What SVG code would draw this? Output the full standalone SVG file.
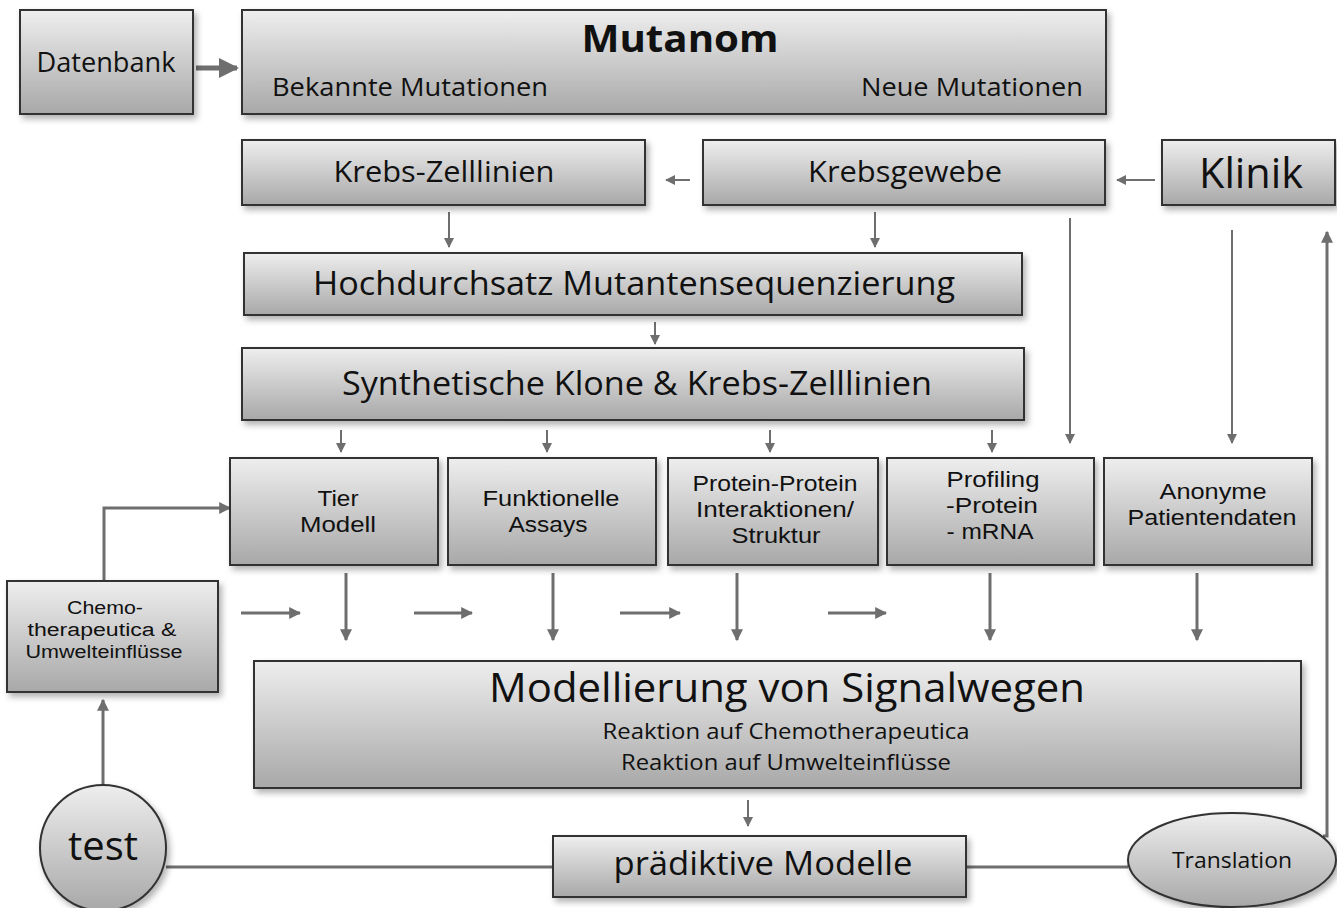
<svg xmlns="http://www.w3.org/2000/svg" width="1337" height="908" viewBox="0 0 1337 908">
<defs>
<linearGradient id="g" x1="0" y1="0" x2="0" y2="1">
<stop offset="0" stop-color="#eeeeee"/>
<stop offset="1" stop-color="#a8a8a8"/>
</linearGradient>
<filter id="sh" x="-10%" y="-10%" width="130%" height="140%">
<feDropShadow dx="3" dy="4" stdDeviation="3" flood-color="#000" flood-opacity="0.3"/>
</filter>
<marker id="ah" viewBox="0 0 10 10" refX="9" refY="5" markerWidth="4" markerHeight="4" orient="auto" markerUnits="strokeWidth">
<path d="M0,0 L10,5 L0,10 z" fill="#6e6e6e"/>
</marker>
<marker id="ahs" viewBox="0 0 10 10" refX="9" refY="5" markerWidth="5" markerHeight="5" orient="auto" markerUnits="strokeWidth">
<path d="M0,0 L10,5 L0,10 z" fill="#6e6e6e"/>
</marker>
</defs>
<style>
.b{fill:url(#g);stroke:#333;stroke-width:2;filter:url(#sh)}
text{font-family:"Open Sans","Liberation Sans",sans-serif;fill:#111;text-anchor:middle}
text.s{font-family:"Liberation Sans",Arial,sans-serif}
.c{stroke:#6e6e6e;stroke-width:3;fill:none}
.t{stroke:#6e6e6e;stroke-width:3;fill:none;marker-end:url(#ah)}
.ts{stroke:#6e6e6e;stroke-width:2;fill:none;marker-end:url(#ahs)}
</style>
<rect width="1337" height="908" fill="#fff"/>

<g id="connectors">
<line class="t" x1="196" y1="68" x2="237" y2="68" style="stroke-width:5"/>
<line class="ts" x1="690" y1="180" x2="666" y2="180"/>
<line class="ts" x1="1155" y1="180" x2="1117" y2="180"/>
<line class="ts" x1="449" y1="212" x2="449" y2="247"/>
<line class="ts" x1="875" y1="212" x2="875" y2="247"/>
<line class="ts" x1="655" y1="322" x2="655" y2="344"/>
<line class="ts" x1="341" y1="430" x2="341" y2="452"/>
<line class="ts" x1="547" y1="430" x2="547" y2="452"/>
<line class="ts" x1="770" y1="430" x2="770" y2="452"/>
<line class="ts" x1="992" y1="430" x2="992" y2="452"/>
<line class="ts" x1="1070" y1="218" x2="1070" y2="443"/>
<line class="ts" x1="1232" y1="230" x2="1232" y2="443"/>
<polyline class="t" points="104,581 104,508 230,508"/>
<line class="t" x1="241" y1="613" x2="300" y2="613"/>
<line class="t" x1="414" y1="613" x2="472" y2="613"/>
<line class="t" x1="620" y1="613" x2="680" y2="613"/>
<line class="t" x1="828" y1="613" x2="886" y2="613"/>
<line class="t" x1="346" y1="573" x2="346" y2="640"/>
<line class="t" x1="553" y1="573" x2="553" y2="640"/>
<line class="t" x1="737" y1="573" x2="737" y2="640"/>
<line class="t" x1="990" y1="573" x2="990" y2="640"/>
<line class="t" x1="1197" y1="573" x2="1197" y2="640"/>
<line class="ts" x1="748" y1="800" x2="748" y2="826"/>
<line class="t" x1="103" y1="785" x2="103" y2="700"/>
<line class="c" x1="166" y1="867" x2="553" y2="867"/>
<line class="c" x1="966" y1="867" x2="1128" y2="867"/>
<polyline class="t" points="1323,836 1327,836 1327,232"/>
</g>

<g id="datenbank"><rect class="b" x="20" y="10" width="173" height="104"/><text x="106" y="72" font-size="27" textLength="139" lengthAdjust="spacingAndGlyphs">Datenbank</text></g>
<g id="mutanom"><rect class="b" x="242" y="10" width="864" height="104"/>
<text x="680" y="52" font-size="38" font-weight="bold" textLength="197" lengthAdjust="spacingAndGlyphs">Mutanom</text>
<text x="272" y="96" font-size="26" style="text-anchor:start" textLength="276" lengthAdjust="spacingAndGlyphs">Bekannte Mutationen</text>
<text x="1083" y="96" font-size="26" style="text-anchor:end" textLength="222" lengthAdjust="spacingAndGlyphs">Neue Mutationen</text></g>
<g id="krebszelllinien"><rect class="b" x="242" y="140" width="403" height="65"/><text x="444" y="182" font-size="29" textLength="221" lengthAdjust="spacingAndGlyphs">Krebs-Zelllinien</text></g>
<g id="krebsgewebe"><rect class="b" x="703" y="140" width="402" height="65"/><text x="905" y="182" font-size="29" textLength="194" lengthAdjust="spacingAndGlyphs">Krebsgewebe</text></g>
<g id="klinik"><rect class="b" x="1162" y="140" width="173" height="65"/><text x="1251" y="188" font-size="42" textLength="104" lengthAdjust="spacingAndGlyphs">Klinik</text></g>
<g id="hochdurchsatz"><rect class="b" x="244" y="253" width="778" height="62"/><text x="634" y="295" font-size="32" textLength="642" lengthAdjust="spacingAndGlyphs">Hochdurchsatz Mutantensequenzierung</text></g>
<g id="synthetische"><rect class="b" x="242" y="348" width="782" height="72"/><text x="637" y="395" font-size="32" textLength="590" lengthAdjust="spacingAndGlyphs">Synthetische Klone &amp; Krebs-Zelllinien</text></g>
<g id="tier"><rect class="b" x="230" y="458" width="208" height="107"/><text class="s" x="338" y="506" font-size="22" textLength="41" lengthAdjust="spacingAndGlyphs">Tier</text><text class="s" x="338" y="532" font-size="22" textLength="76" lengthAdjust="spacingAndGlyphs">Modell</text></g>
<g id="funktionelle"><rect class="b" x="448" y="458" width="208" height="107"/><text class="s" x="551" y="506" font-size="22" textLength="137" lengthAdjust="spacingAndGlyphs">Funktionelle</text><text class="s" x="548" y="532" font-size="22" textLength="79" lengthAdjust="spacingAndGlyphs">Assays</text></g>
<g id="protein"><rect class="b" x="668" y="458" width="210" height="107"/><text class="s" x="775" y="491" font-size="22" textLength="165" lengthAdjust="spacingAndGlyphs">Protein-Protein</text><text class="s" x="775" y="517" font-size="22" textLength="158" lengthAdjust="spacingAndGlyphs">Interaktionen/</text><text class="s" x="776" y="543" font-size="22" textLength="89" lengthAdjust="spacingAndGlyphs">Struktur</text></g>
<g id="profiling"><rect class="b" x="887" y="458" width="207" height="107"/><text class="s" x="993" y="487" font-size="22" textLength="93" lengthAdjust="spacingAndGlyphs">Profiling</text><text class="s" x="992" y="513" font-size="22" textLength="92" lengthAdjust="spacingAndGlyphs">-Protein</text><text class="s" x="990" y="539" font-size="22" textLength="87" lengthAdjust="spacingAndGlyphs">- mRNA</text></g>
<g id="anonyme"><rect class="b" x="1104" y="458" width="208" height="107"/><text class="s" x="1213" y="499" font-size="22" textLength="107" lengthAdjust="spacingAndGlyphs">Anonyme</text><text class="s" x="1212" y="525" font-size="22" textLength="169" lengthAdjust="spacingAndGlyphs">Patientendaten</text></g>
<g id="chemo"><rect class="b" x="7" y="581" width="211" height="111"/><text class="s" x="105" y="614" font-size="18" textLength="76" lengthAdjust="spacingAndGlyphs">Chemo-</text><text class="s" x="102" y="636" font-size="18" textLength="149" lengthAdjust="spacingAndGlyphs">therapeutica &amp;</text><text class="s" x="104" y="658" font-size="18" textLength="157" lengthAdjust="spacingAndGlyphs">Umwelteinflüsse</text></g>
<g id="modellierung"><rect class="b" x="254" y="661" width="1047" height="127"/><text x="787" y="702" font-size="40" textLength="596" lengthAdjust="spacingAndGlyphs">Modellierung von Signalwegen</text><text x="786" y="739" font-size="22" textLength="367" lengthAdjust="spacingAndGlyphs">Reaktion auf Chemotherapeutica</text><text x="786" y="770" font-size="22" textLength="330" lengthAdjust="spacingAndGlyphs">Reaktion auf Umwelteinflüsse</text></g>
<g id="praediktive"><rect class="b" x="553" y="836" width="413" height="61"/><text x="763" y="875" font-size="33" textLength="299" lengthAdjust="spacingAndGlyphs">prädiktive Modelle</text></g>
<g id="test"><circle class="b" cx="103" cy="848" r="63"/><text x="103" y="860" font-size="40" textLength="70" lengthAdjust="spacingAndGlyphs">test</text></g>
<g id="translation"><ellipse class="b" cx="1232" cy="860" rx="104" ry="47"/><text x="1232" y="868" font-size="22" textLength="120" lengthAdjust="spacingAndGlyphs">Translation</text></g>
</svg>
